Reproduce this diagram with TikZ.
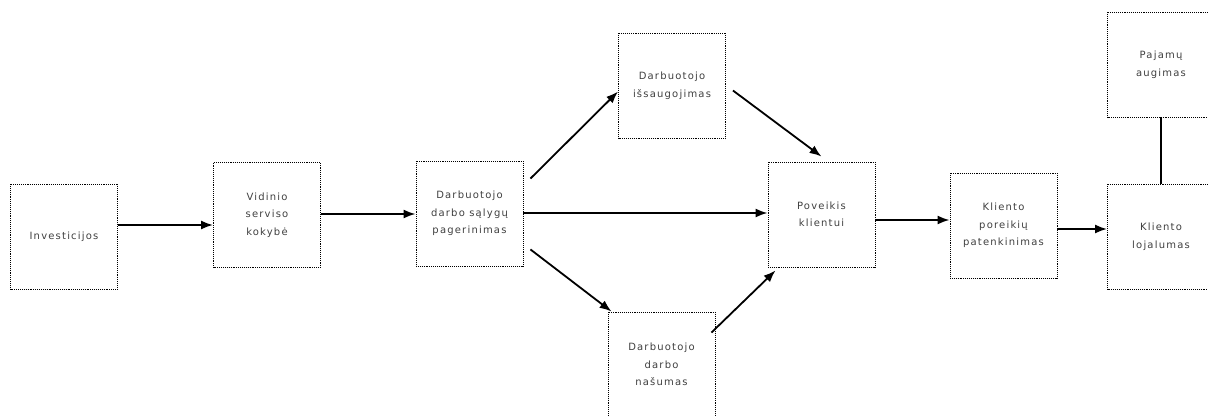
\documentclass[tikz,border=0pt]{standalone}
\usepackage{fontspec}
\setmainfont{DejaVu Sans}[LetterSpace=12]
\usetikzlibrary{arrows.meta,calc}
\begin{document}
\begin{tikzpicture}[x=1pt,y=-1pt,
  box/.style={draw=black,densely dotted,line width=0.9pt,fill=white,
    minimum width=107pt,minimum height=105pt,inner sep=2pt,align=center,
    font=\fontsize{10}{17.5}\selectfont,text=black!75},
  arr/.style={draw=black,line width=1.8pt,-{Latex[length=12pt,width=9pt]}},
  link/.style={draw=black,line width=1.8pt}]
\useasboundingbox (0,0) rectangle (1208,417);

% boxes of the chain
\node[box] (inv)  at (64,236.5)    {Investicijos};
\node[box] (vid)  at (267,215)     {Vidinio\\serviso\\kokybė};
\node[box] (dsal) at (469.5,213.5) {Darbuotojo\\darbo sąlygų\\pagerinimas};
\node[box] (issa) at (672,85.5)    {Darbuotojo\\išsaugojimas};
\node[box] (nas)  at (661.5,364.5) {Darbuotojo\\darbo\\našumas};
\node[box] (pov)  at (821.5,214.5) {Poveikis\\klientui};
\node[box] (kpor) at (1003.5,225.5){Kliento\\poreikių\\patenkinimas};
\node[box] (paj)  at (1161,64.5)   {Pajamų\\augimas};
\node[box] (loj)  at (1161,236.5)  {Kliento\\lojalumas};

% straight flow
\draw[arr] (inv.east |- 0,225) -- (vid.west |- 0,225);
\draw[arr] (vid.east |- 0,214) -- (dsal.west |- 0,214);
\draw[arr] (dsal.east |- 0,213) -- (pov.west |- 0,213);
\draw[arr] (pov.east |- 0,220) -- (kpor.west |- 0,220);
\draw[arr] (kpor.east |- 0,229) -- (loj.west |- 0,229);

% branches through the employee boxes
\draw[arr] ($(dsal.north east)+(7,18)$) -- ($(issa.west)+(0,6)$);
\draw[arr] ($(dsal.south east)+(7,-17)$) -- ($(nas.north west)+(4,0)$);
\draw[arr] ($(issa.east)+(7,5)$) -- ($(pov.north)+(0,-5)$);
\draw[arr] ($(nas.north east)+(-4,21)$) -- ($(pov.south west)+(8,3)$);

% revenue linked to loyalty
\draw[link] (paj.south) -- (loj.north);
\end{tikzpicture}
\end{document}
